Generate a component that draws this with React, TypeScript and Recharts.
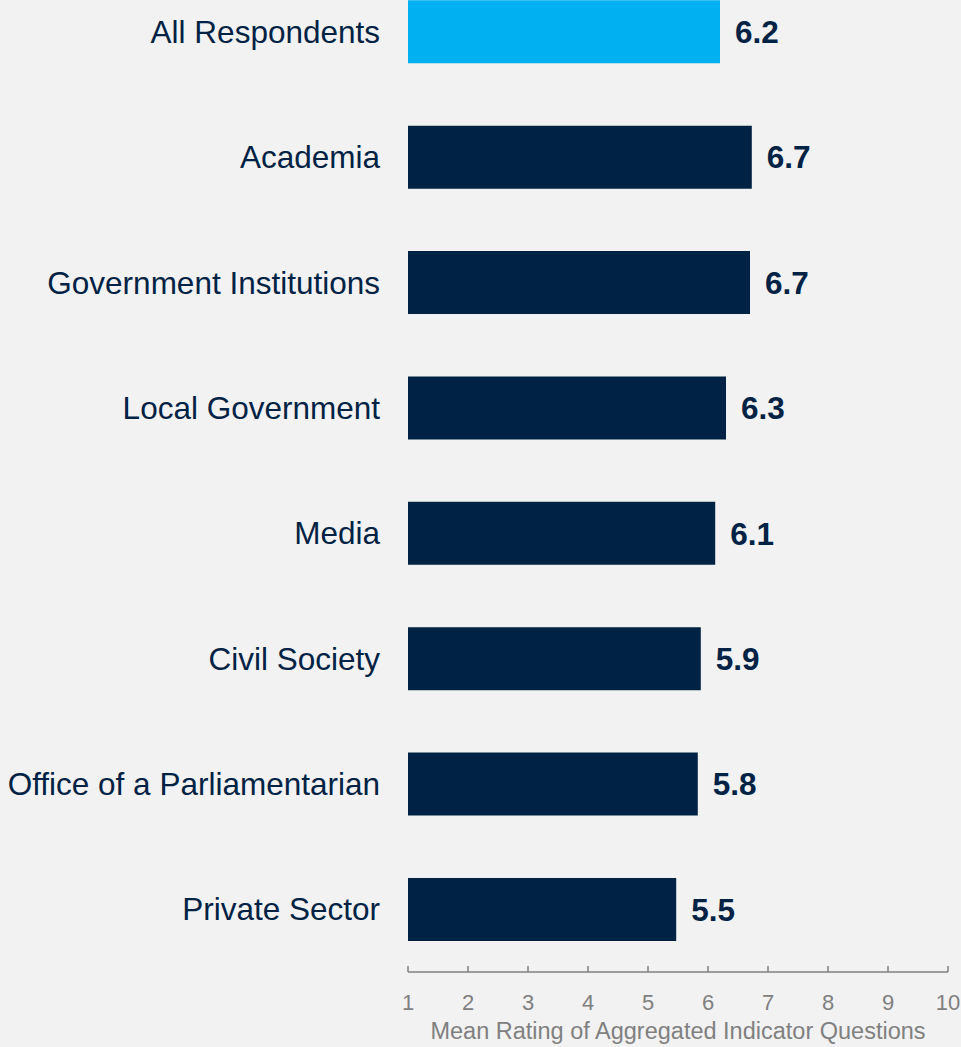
import { BarChart, Bar, XAxis, YAxis, Cell, LabelList, Label } from "recharts";

const categories = [
  "All Respondents",
  "Academia",
  "Government Institutions",
  "Local Government",
  "Media",
  "Civil Society",
  "Office of a Parliamentarian",
  "Private Sector",
];
const ratings = [6.2, 6.73, 6.7, 6.3, 6.12, 5.88, 5.83, 5.47];
const xTicks = [1, 2, 3, 4, 5, 6, 7, 8, 9, 10];

const NAVY = "#002244";
const HIGHLIGHT = "#00b0f0";
const GREY = "#808080";
const FONT = "'Liberation Sans', Arial, sans-serif";

const data = categories.map((name, i) => ({ name, value: ratings[i] }));

const XTick = ({ x, y, payload }: { x?: number; y?: number; payload?: { value: number } }) => (
  <g>
    <line x1={x} x2={x} y1={y} y2={(y ?? 0) - 6} stroke={GREY} strokeWidth={1.5} />
    <text x={x} y={(y ?? 0) + 30} textAnchor="middle" dominantBaseline="central" fill={GREY} fontSize={22} fontFamily={FONT}>
      {payload?.value}
    </text>
  </g>
);

export default function App() {
  return (
    <div style={{ position: "absolute", left: 0, top: 0, width: 961, height: 1047, overflow: "hidden", background: "#f2f2f2" }}>
      <div style={{ position: "absolute", left: 0, top: -31 }}>
        <BarChart
          width={961}
          height={1078}
          data={data}
          layout="vertical"
          margin={{ top: 0, right: 13, bottom: 0, left: 0 }}
          barCategoryGap="25%"
          style={{ fontFamily: FONT }}
        >
          <XAxis
            type="number"
            domain={[1, 10]}
            ticks={xTicks}
            allowDataOverflow
            height={75}
            tickLine={false}
            tickSize={0}
            tickMargin={0}
            axisLine={{ stroke: GREY, strokeWidth: 1.5 }}
            tick={<XTick />}
          >
            <Label
              value="Mean Rating of Aggregated Indicator Questions"
              position="insideBottom"
              offset={8}
              style={{ fill: GREY, fontSize: 23.5, fontFamily: FONT }}
            />
          </XAxis>
          <YAxis
            type="category"
            dataKey="name"
            width={408}
            axisLine={false}
            tickLine={false}
            tickSize={0}
            tickMargin={28}
            tick={{ fill: NAVY, fontSize: 31.5, fontFamily: FONT }}
          />
          <Bar dataKey="value" isAnimationActive={false}>
            {data.map((d, i) => (
              <Cell key={d.name} fill={i === 0 ? HIGHLIGHT : NAVY} />
            ))}
            <LabelList
              dataKey="value"
              position="right"
              offset={15}
              formatter={(v: number) => v.toFixed(1)}
              style={{ fill: NAVY, fontSize: 31.5, fontWeight: "bold", fontFamily: FONT }}
            />
          </Bar>
        </BarChart>
      </div>
    </div>
  );
}
